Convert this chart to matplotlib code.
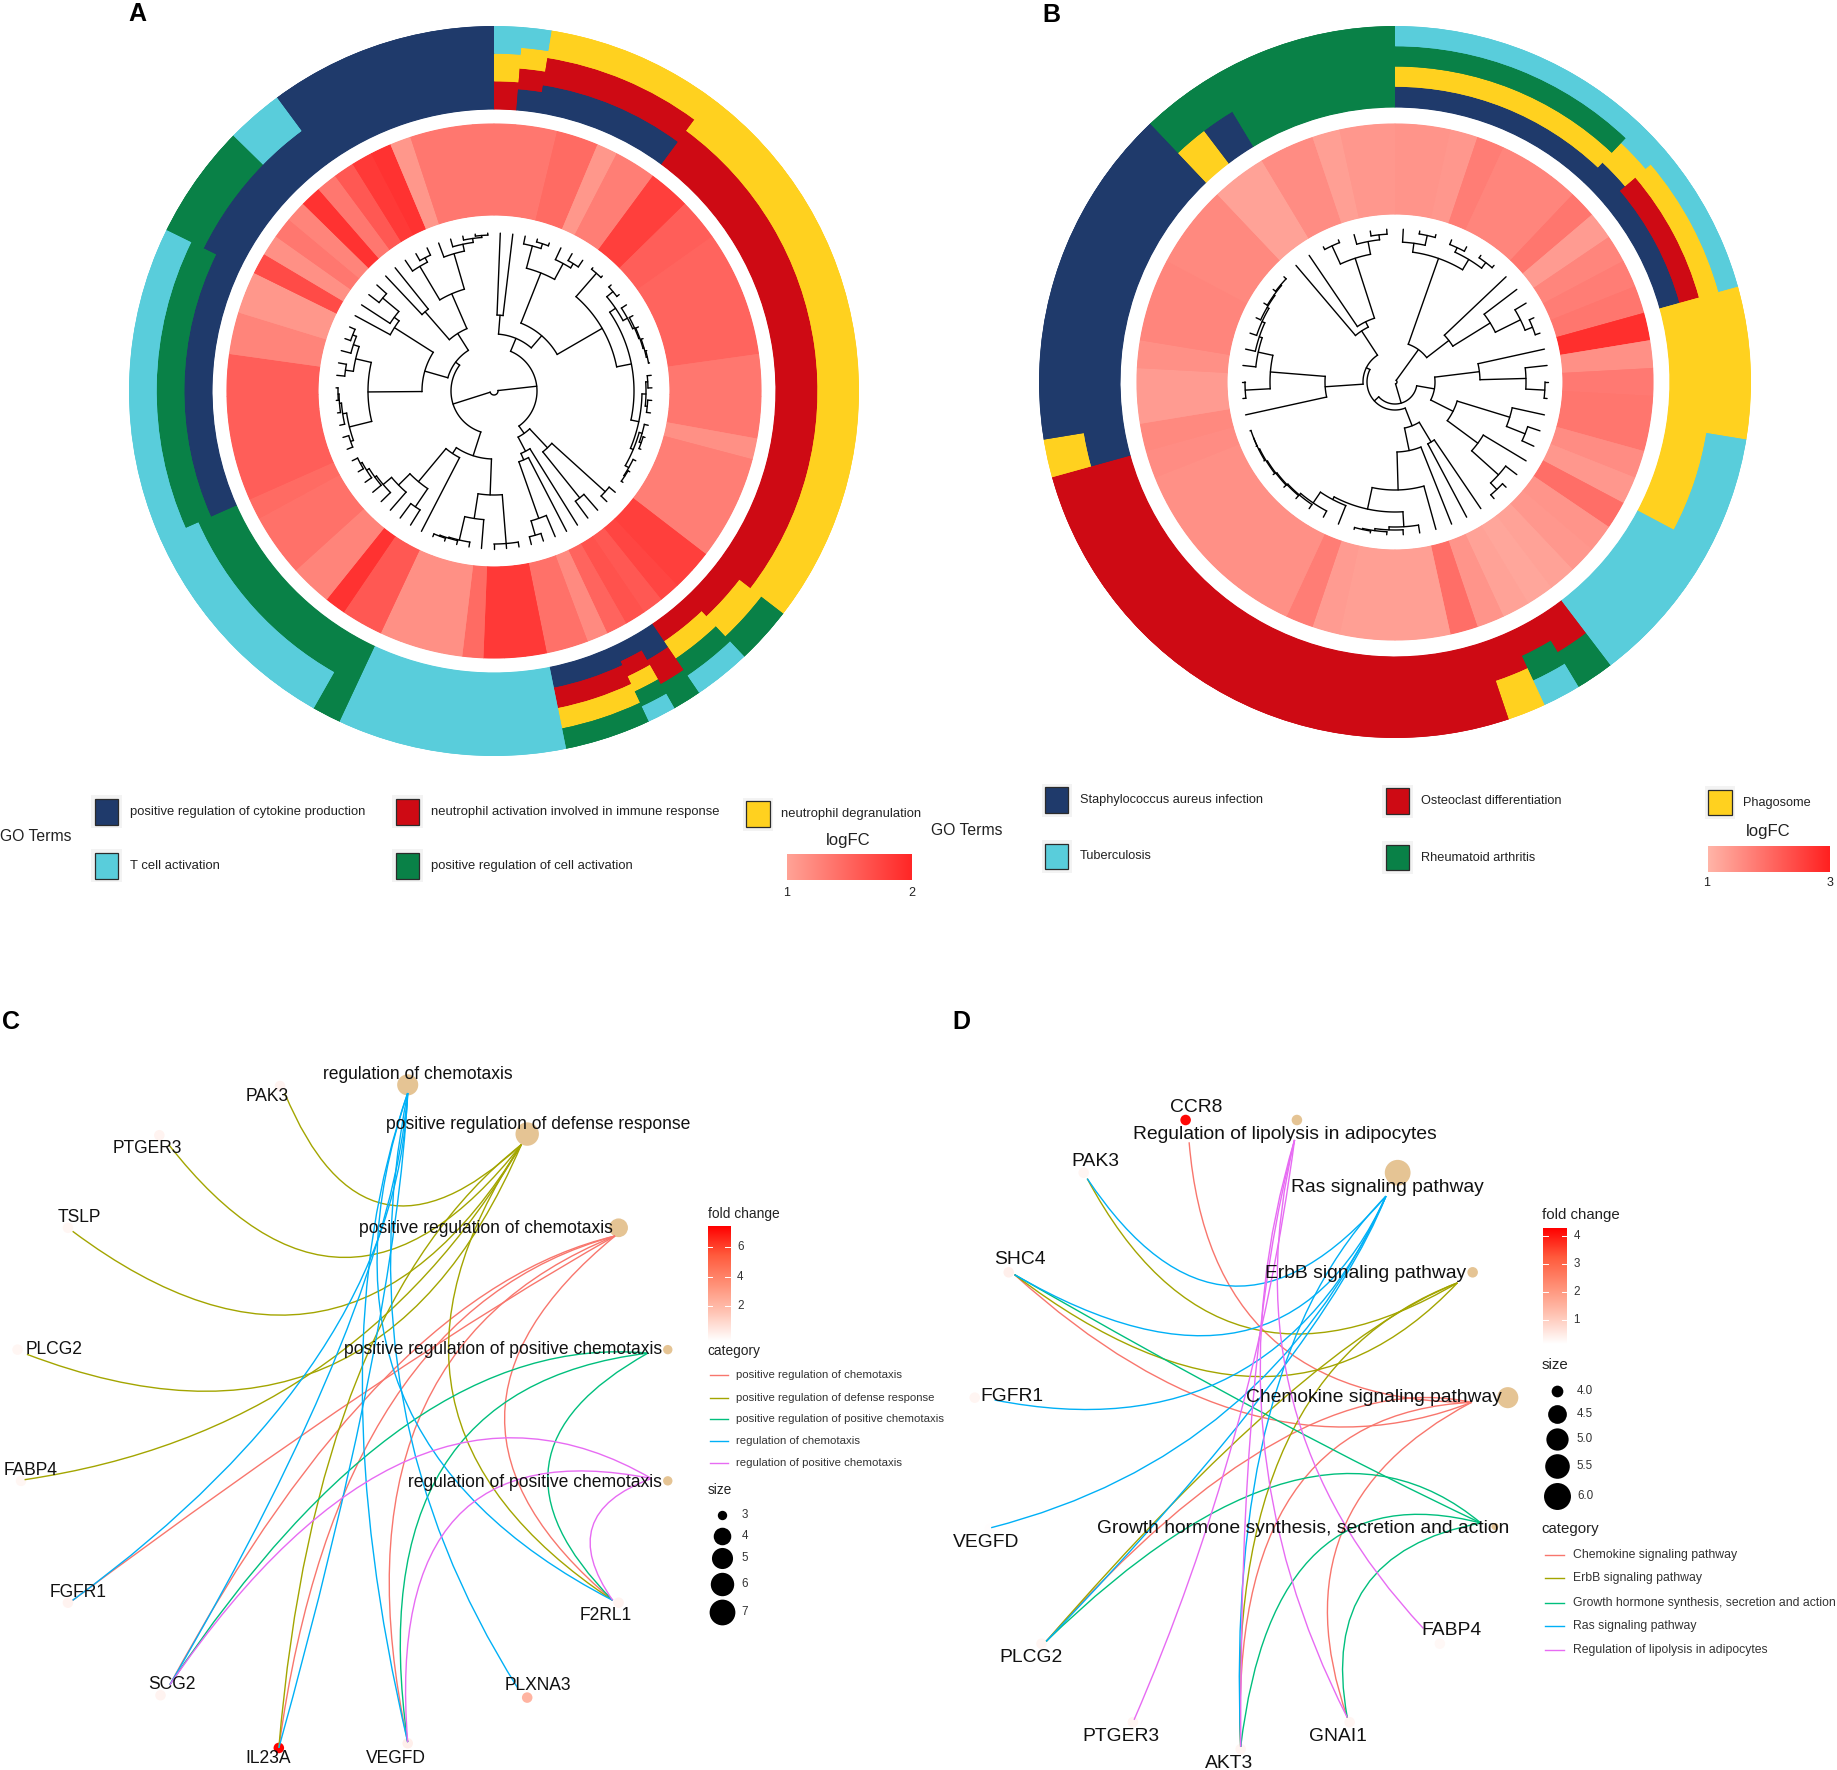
import numpy as np
import matplotlib
matplotlib.use("Agg")
import matplotlib.pyplot as plt
from matplotlib.colors import LinearSegmentedColormap
from matplotlib.patches import PathPatch, Rectangle
from matplotlib.path import Path

plt.rcParams['font.family'] = ['Liberation Sans', 'DejaVu Sans']

# ring colours
NAVY = '#1F3A6B'
RED = '#CE0A14'
YEL = '#FFD11F'
GRN = '#098147'
CYA = '#59CDDB'

# Panel A: terms of each gene, inner to outer, as (number of genes, terms)
A_RUNS = [(1, [RED, YEL, CYA]), (1, [NAVY, RED, YEL, CYA]), (6, [NAVY, RED, YEL]),
          (20, [RED, YEL]), (2, [RED, YEL, GRN]), (2, [RED, YEL, GRN, CYA]),
          (1, [NAVY, RED, GRN]), (1, [NAVY, RED, YEL, GRN, CYA]), (3, [NAVY, RED, YEL, GRN]),
          (8, [CYA]), (1, [GRN]), (8, [GRN, CYA]), (11, [NAVY, GRN, CYA]),
          (4, [NAVY, GRN]), (2, [NAVY, CYA]), (8, [NAVY])]
A_LOGFC = [1.35, 1.35, 1.35, 1.45, 1.45, 1.1, 1.3, 1.3, 1.8, 1.8,
           1.55, 1.55, 1.5, 1.5, 1.5, 1.5, 1.5, 1.5, 1.35, 1.35,
           1.35, 1.35, 1.15, 1.3, 1.3, 1.3, 1.3, 1.3, 1.8, 1.8,
           1.75, 1.6, 1.65, 1.5, 1.2, 1.4, 1.4, 1.85, 1.85, 1.85,
           1.45, 1.15, 1.15, 1.15, 1.15, 1.6, 1.6, 1.9, 1.25, 1.25,
           1.4, 1.4, 1.4, 1.45, 1.55, 1.55, 1.55, 1.55, 1.55, 1.55,
           1.55, 1.25, 1.25, 1.1, 1.1, 1.7, 1.15, 1.35, 1.25, 1.9,
           1.35, 1.6, 1.85, 1.9, 1.1, 1.35, 1.35, 1.35, 1.35]
# tree: [merge radius, child, child, ...], a number is a leaf
A_TREE = [4,
          [43,
           [57, [76, 0, 1],
            [73,
             [127, [150, 2, [155, 3, 4]], [145, 5, [150, 6, 7]]],
             [125, [156, 8, 9],
              [140,
               [147, [155, 10, 11], [152, 12, [154, 13, [155, 14, [156, 15, [157, 16, 17]]]]]],
               [148, [152, [154, 18, 19], [154, 20, 21]],
                [151, [154, 22, [156, 23, 24]], [155, 25, [156, 26, 27]]]]]]]],
           [52, [78, [150, 28, 29], [137, 30, 31]],
            [68, 32, [75, 33, [135, 34, [150, 35, 36]]]]]],
          [43,
           [68,
            [104, [153, 37, 38, 39], [129, 40, [153, 41, [154, 42, [155, 43, 44]]]]],
            [75, 45, [118, [140, 46, 47],
                      [134, 48, [145, 49, [147, 50, [150, 51, [152, 52, 53]]]]]]]],
           [48,
            [72,
             [126,
              [149, [152, 54, 55], [153, 56, [155, 57, [156, 58, 59]]]],
              [142, [150, 60, 61], [148, 62, [152, 63, 64]]]],
             [118, 65, [124, 66, [145, 67, 68]]]],
            [68, [105, 69, 70],
             [106, [145, 71, [150, 72, 73]],
              [143, 74, [150, 75, [154, 76, [156, 77, 78]]]]]]]]]

# Panel B
B_RUNS = [(7, [NAVY, YEL, GRN, CYA]), (1, [NAVY, YEL, CYA]), (4, [NAVY, RED, YEL, CYA]),
          (4, [YEL]), (3, [YEL, CYA]), (4, [CYA]), (1, [RED, GRN]), (1, [RED, GRN, CYA]),
          (1, [RED, YEL]), (15, [RED]), (1, [NAVY, YEL]), (9, [NAVY]), (1, [YEL, GRN]),
          (1, [NAVY, GRN]), (5, [GRN])]
B_LOGFC = [1.45, 1.45, 1.4, 1.75, 1.65, 1.65, 1.65, 1.85, 1.35, 1.65,
           1.75, 1.85, 2.8, 1.5, 1.8, 1.85, 1.85, 1.55, 1.4, 1.95,
           1.45, 1.4, 1.25, 1.2, 1.25, 1.45, 1.95, 1.3, 1.3, 1.3,
           1.3, 1.35, 1.75, 1.5, 1.5, 1.5, 1.5, 1.5, 1.5, 1.5,
           1.55, 1.6, 1.35, 1.35, 1.5, 1.65, 1.65, 1.65, 1.6, 1.6,
           1.6, 1.25, 1.25, 1.55, 1.55, 1.3, 1.4, 1.4]
B_TREE = [2,
          [40,
           [131, [140, 0, [150, 1, 2]], [143, [148, 3, 4], [150, 5, 6]]],
           [68, 7, [112, 8, [140, 9, [148, 10, 11]]]]],
          [22,
           [40,
            [85, 12, [131, 13, [150, 14, 15]]],
            [65,
             [120, 16, [140, 17, 18]],
             [103, 19, [139, 20, [148, 21, 22]]]]],
           [28,
            [47,
             [70, 23, 24],
             [70, 25,
              [108, 26,
               [130,
                [145, 27, [148, 28, [150, 29, [151, 30, 31]]]],
                [133, 32, [146, 33, [148, 34, [149, 35, [150, 36, [151, 37, [152, 38, [152, 39, 40]]]]]]]]]]]],
            [32,
             [70, 41,
              [125, [150, 42, 43],
               [140, 44, [143, 45, [146, 46, [148, 47, [149, 48, [150, 49, 50]]]]]]]],
             [61, 51,
              [67, 52,
               [130, [150, 53, 54], [143, 55, [148, 56, 57]]]]]]]]]

A_LEGEND = [('positive regulation of cytokine production', NAVY, 81, 682),
            ('neutrophil activation involved in immune response', RED, 338, 682),
            ('neutrophil degranulation', YEL, 637, 684),
            ('T cell activation', CYA, 81, 728),
            ('positive regulation of cell activation', GRN, 338, 728)]
B_LEGEND = [('Staphylococcus aureus infection', NAVY, 892, 672),
            ('Osteoclast differentiation', RED, 1183, 673),
            ('Phagosome', YEL, 1458, 674),
            ('Tuberculosis', CYA, 892, 720),
            ('Rheumatoid arthritis', GRN, 1183, 721)]

# Panels C and D, ggplot hue colours of the categories
HUES = ['#F8766D', '#A3A500', '#00BF7D', '#00B0F6', '#E76BF3']
TAN = '#E5C494'

C_TERMS = ['positive regulation of chemotaxis', 'positive regulation of defense response',
           'positive regulation of positive chemotaxis', 'regulation of chemotaxis',
           'regulation of positive chemotaxis']
C_TERM_NODE = [(528, 1048), (450, 968), (570, 1152), (348, 926), (570, 1264)]
C_TERM_R = [8, 10, 4, 9, 4]
C_TERM_LABEL = [(415, 1049), (459, 960), (429, 1152), (357, 917), (457, 1265)]
C_TERM_END = [(525, 1055), (445, 977), (553, 1155), (348, 933), (556, 1262)]
C_GENES = ['PAK3', 'PTGER3', 'TSLP', 'PLCG2', 'FABP4', 'FGFR1', 'SCG2', 'IL23A', 'VEGFD', 'PLXNA3', 'F2RL1']
C_GENE_NODE = [(239, 927), (136, 969), (58, 1048), (15, 1152), (18, 1264), (58, 1368),
               (137, 1447), (238, 1492), (348, 1488), (450, 1449), (528, 1368)]
C_GENE_LABEL = [(228, 936), (126, 980), (68, 1039), (46, 1152), (26, 1255), (67, 1359),
                (147, 1438), (229, 1501), (338, 1501), (459, 1439), (517, 1379)]
C_GENE_END = [(243, 933), (144, 977), (62, 1051), (23, 1156), (21, 1263), (62, 1366),
              (145, 1438), (238, 1492), (348, 1487), (442, 1441), (523, 1366)]
C_GENE_FC = [0.4, 0.4, 0.3, 0.3, 0.3, 0.4, 0.4, 7.4, 0.5, 2.4, 0.4]
# where along the chord an arc bends most, genes whose edges stay bundled longer
C_SKEW = {'FGFR1': 0.62, 'SCG2': 0.68, 'IL23A': 0.65, 'VEGFD': 0.6}
# per category: (gene, bend of the arc)
C_EDGES = [[('FGFR1', -0.03), ('SCG2', -0.2), ('IL23A', -0.31), ('VEGFD', -0.41), ('F2RL1', -0.6)],
           [('PAK3', 0.72), ('PTGER3', 0.64), ('TSLP', 0.55), ('PLCG2', 0.48), ('FABP4', 0.24),
            ('IL23A', -0.2), ('F2RL1', -0.5)],
           [('SCG2', -0.27), ('VEGFD', -0.5), ('F2RL1', -0.66)],
           [('FGFR1', 0.23), ('SCG2', 0.1), ('IL23A', 0.05), ('VEGFD', -0.14), ('PLXNA3', -0.2), ('F2RL1', -0.43)],
           [('SCG2', -0.43), ('VEGFD', -0.65), ('F2RL1', -0.65)]]

D_TERMS = ['Chemokine signaling pathway', 'ErbB signaling pathway',
           'Growth hormone synthesis, secretion and action', 'Ras signaling pathway',
           'Regulation of lipolysis in adipocytes']
D_TERM_NODE = [(1287, 1193), (1257, 1086), (1276, 1303), (1193, 1001), (1107, 956)]
D_TERM_R = [9, 4.5, 3, 11, 4.5]
D_TERM_LABEL = [(1173, 1193), (1166, 1087), (1112, 1305), (1184, 1014), (1097, 968)]
D_TERM_END = [(1256, 1197), (1244, 1095), (1264, 1300), (1183, 1021), (1105, 973)]
D_GENES = ['CCR8', 'PAK3', 'SHC4', 'FGFR1', 'VEGFD', 'PLCG2', 'PTGER3', 'AKT3', 'GNAI1', 'FABP4']
D_GENE_NODE = [(1012, 956), (925, 1001), (861, 1086), (832, 1193), (845, 1305), (889, 1403),
               (967, 1470), (1059, 1493), (1152, 1470), (1229, 1403)]
D_GENE_LABEL = [(1021, 945), (935, 991), (871, 1075), (864, 1192), (842, 1317), (880, 1415),
                (957, 1482), (1049, 1505), (1142, 1482), (1239, 1392)]
D_GENE_END = [(1015, 975), (928, 1006), (866, 1088), (849, 1195), (846, 1304), (893, 1401),
              (968, 1468), (1059, 1491), (1150, 1466), (1215, 1390)]
D_GENE_FC = [4.2, 0.2, 0.3, 0.2, 0.05, 0.2, 0.2, 0.2, 0.2, 0.15]
D_SKEW = {'PLCG2': 0.72, 'SHC4': 0.6, 'AKT3': 0.65}
D_EDGES = [[('CCR8', 0.46), ('SHC4', 0.3), ('PLCG2', -0.25), ('AKT3', -0.47), ('GNAI1', -0.43)],
           [('PAK3', 0.52), ('SHC4', 0.44), ('PLCG2', -0.1), ('AKT3', -0.34)],
           [('SHC4', 0.02), ('PLCG2', -0.4), ('AKT3', -0.55), ('GNAI1', -0.5)],
           [('PAK3', 0.66), ('SHC4', 0.54), ('FGFR1', 0.4), ('VEGFD', 0.24), ('PLCG2', 0.08), ('AKT3', -0.2)],
           [('PTGER3', 0.07), ('AKT3', -0.06), ('GNAI1', -0.2), ('FABP4', -0.27)]]

FC_CMAP = LinearSegmentedColormap.from_list('fc', ['#FFFFFF', '#FFC4B4', '#FF8F75', '#FF5A3C', '#FF0000'])
RING_A = LinearSegmentedColormap.from_list('a', ['#FFA396', '#FF2626'])
RING_B = LinearSegmentedColormap.from_list('b', ['#FFB5A8', '#FF2020'])

W, H = 1837, 1770
SCALE = W / 1568  # overlay units to pixels


def draw_tree(ax, node, n):
    # returns the angle of the node and its radius
    if not isinstance(node, list):
        return (node + 0.5) * 2 * np.pi / n, None
    r = node[0]
    angles = []
    for child in node[1:]:
        a, child_r = draw_tree(ax, child, n)
        tip = child_r if child_r is not None else ax.tip_r
        ax.plot([a, a], [r, tip], color='black', lw=1.0, solid_capstyle='round', zorder=3)
        angles.append(a)
    arc = np.linspace(angles[0], angles[-1], 60)
    ax.plot(arc, np.full(60, r), color='black', lw=1.0, zorder=3)
    return (angles[0] + angles[-1]) / 2, r


def sector(ax, theta, width, bottom, height, col):
    # an edged copy below hides the seams between neighbouring sectors
    ax.bar(theta, height, width=width, bottom=bottom, align='edge', color=col,
           edgecolor=col, linewidth=0.8, zorder=1)
    ax.bar(theta, height, width=width, bottom=bottom, align='edge', color=col,
           linewidth=0, zorder=2)


def circle_panel(cx, cy, R, ring_in, heat_out, heat_in, tip_r, runs, logfc, tree, cmap, lo, hi):
    ax = fig.add_axes([(cx - R) / W, 1 - (cy + R) / H, 2 * R / W, 2 * R / H], projection='polar')
    ax.set_theta_zero_location('N')
    ax.set_theta_direction(-1)
    ax.set_ylim(0, R)
    ax.axis('off')
    ax.tip_r = tip_r
    n = len(logfc)
    step = 2 * np.pi / n
    i = 0
    for count, terms in runs:
        tier = (R - ring_in) / len(terms)
        for k, col in enumerate(terms):
            sector(ax, i * step, count * step, ring_in + k * tier, tier, col)
        i += count
    for i, fc in enumerate(logfc):
        sector(ax, i * step, step, heat_in, heat_out - heat_in, cmap((fc - lo) / (hi - lo)))
    draw_tree(ax, tree, n)
    ax.set_ylim(0, R)
    return ax


def key_box(ax, label, col, x, y, size):
    ax.add_patch(Rectangle((x - 3, y - 3), 26, 28, facecolor='#F3F3F3', edgecolor='none'))
    ax.add_patch(Rectangle((x, y), 20, 22, facecolor=col, edgecolor='#2B2B2B', lw=0.9))
    ax.text(x + 30, y + 11, label, fontsize=size, va='center', ha='left', color='#222222')


def bar_h(ax, x0, x1, y0, y1, cmap):
    grad = np.linspace(0, 1, 256).reshape(1, -1)
    ax.imshow(grad, cmap=cmap, extent=(x0, x1, y1, y0), aspect='auto', zorder=2)


def bar_v(ax, x0, x1, y0, y1, ticks):
    grad = np.linspace(1, 0, 256).reshape(-1, 1)
    ax.imshow(grad, cmap=FC_CMAP, extent=(x0, x1, y1, y0), aspect='auto', zorder=2)
    for label, y in ticks:
        ax.plot([x0, x0 + 4], [y, y], color='white', lw=0.7, zorder=3)
        ax.plot([x1 - 4, x1], [y, y], color='white', lw=0.7, zorder=3)
        ax.text(x1 + 6, y, label, fontsize=8.4, va='center', ha='left', color='#333333')


def dot_s(r):
    # scatter area for a radius in overlay units
    return (2 * r * SCALE * 0.72) ** 2


def network(ax, terms, term_node, term_r, term_label, term_end, genes, gene_node, gene_label,
            gene_end, gene_fc, edges, skews, fc_max, fontsize):
    ax.scatter([p[0] for p in term_node], [p[1] for p in term_node],
               s=[dot_s(r) for r in term_r], color=TAN, linewidths=0, zorder=3)
    ax.scatter([p[0] for p in gene_node], [p[1] for p in gene_node], s=dot_s(4.5),
               c=gene_fc, cmap=FC_CMAP, vmin=0, vmax=fc_max, linewidths=0, zorder=3)
    for t, term_edges in enumerate(edges):
        x1, y1 = term_end[t]
        for gene, bend in term_edges:
            x0, y0 = gene_end[genes.index(gene)]
            f = skews.get(gene, 0.5)
            ctrl = (x0 + f * (x1 - x0) - bend * (y1 - y0), y0 + f * (y1 - y0) + bend * (x1 - x0))
            path = Path([(x0, y0), ctrl, (x1, y1)], [Path.MOVETO, Path.CURVE3, Path.CURVE3])
            ax.add_patch(PathPatch(path, facecolor='none', edgecolor=HUES[t], lw=1.0, zorder=4))
    for name, (x, y) in zip(terms + genes, term_label + gene_label):
        ax.text(x, y, name, fontsize=fontsize, ha='center', va='center', color='#111111', zorder=5)


def legend_block(ax, x, title_y, title_size, bar, ticks, cat_y, cat_rows, terms, text_size,
                 size_y, size_rows, size_x, size_labels, line_x, text_x):
    ax.text(x, title_y, 'fold change', fontsize=title_size, va='center', color='#222222')
    bar_v(ax, bar[0], bar[1], bar[2], bar[3], ticks)
    ax.text(x, cat_y, 'category', fontsize=title_size, va='center', color='#222222')
    for t, y in enumerate(cat_rows):
        ax.plot(line_x, [y, y], color=HUES[t], lw=1.0)
        ax.text(text_x, y, terms[t], fontsize=text_size, va='center', color='#333333')
    ax.text(x, size_y, 'size', fontsize=title_size, va='center', color='#222222')
    for (y, r), lab in zip(size_rows, size_labels):
        ax.scatter([size_x], [y], s=dot_s(r), color='black', linewidths=0)
        ax.text(size_x + 17, y, lab, fontsize=8.4, va='center', color='#333333')


fig = plt.figure(figsize=(W / 100, H / 100), dpi=100)

circle_panel(494, 391, 365, 282, 267, 176, 158, A_RUNS, A_LOGFC, A_TREE, RING_A, 1, 2)
circle_panel(1395, 382, 356, 275, 258, 168, 153, B_RUNS, B_LOGFC, B_TREE, RING_B, 1, 3)

ov = fig.add_axes([0, 0, 1, 1])
ov.patch.set_alpha(0)
ov.axis('off')

for letter, x, y in [('A', 117, 12), ('B', 897, 13), ('C', 9, 872), ('D', 821, 872)]:
    ov.text(x, y, letter, fontsize=18, fontweight='bold', ha='center', va='center', color='black')

# legends of the circles
ov.text(0, 714, 'GO Terms', fontsize=11.3, va='center', color='#222222')
for label, col, x, y in A_LEGEND:
    key_box(ov, label, col, x, y, 9.4)
ov.text(724, 717, 'logFC', fontsize=12, ha='center', va='center', color='#222222')
bar_h(ov, 672, 778, 729, 751, RING_A)
ov.text(671, 762, '1', fontsize=9, ha='center', va='center', color='#222222')
ov.text(778, 762, '2', fontsize=9, ha='center', va='center', color='#222222')

ov.text(795, 709, 'GO Terms', fontsize=11.3, va='center', color='#222222')
for label, col, x, y in B_LEGEND:
    key_box(ov, label, col, x, y, 9.15)
ov.text(1509, 710, 'logFC', fontsize=12, ha='center', va='center', color='#222222')
bar_h(ov, 1458, 1562, 722, 744, RING_B)
ov.text(1457, 754, '1', fontsize=9, ha='center', va='center', color='#222222')
ov.text(1562, 754, '3', fontsize=9, ha='center', va='center', color='#222222')

# networks
network(ov, C_TERMS, C_TERM_NODE, C_TERM_R, C_TERM_LABEL, C_TERM_END, C_GENES, C_GENE_NODE,
        C_GENE_LABEL, C_GENE_END, C_GENE_FC, C_EDGES, C_SKEW, 7.4, 12.65)
network(ov, D_TERMS, D_TERM_NODE, D_TERM_R, D_TERM_LABEL, D_TERM_END, D_GENES, D_GENE_NODE,
        D_GENE_LABEL, D_GENE_END, D_GENE_FC, D_EDGES, D_SKEW, 4.3, 13.85)

legend_block(ov, 604, 1036, 9.9, (604, 623, 1047, 1145),
             [('6', 1064), ('4', 1090), ('2', 1115)],
             1153, [1174, 1193, 1211, 1230, 1249], C_TERMS, 8.2,
             1272, [(1293, 4), (1311, 7.5), (1330, 9), (1352, 10), (1376, 11)], 616,
             ['3', '4', '5', '6', '7'], [606, 621], 628)
legend_block(ov, 1316, 1037, 10.8, (1317, 1337, 1048, 1147),
             [('4', 1055), ('3', 1079), ('2', 1103), ('1', 1127)],
             1305, [1327, 1347, 1368, 1388, 1408], D_TERMS, 8.85,
             1165, [(1187, 5), (1207, 8), (1228, 9.5), (1251, 10.5), (1277, 11.5)], 1329,
             ['4.0', '4.5', '5.0', '5.5', '6.0'], [1319, 1335], 1343)

ov.set_xlim(0, 1568)
ov.set_ylim(H / SCALE, 0)

fig.savefig('out.png', dpi=100)
